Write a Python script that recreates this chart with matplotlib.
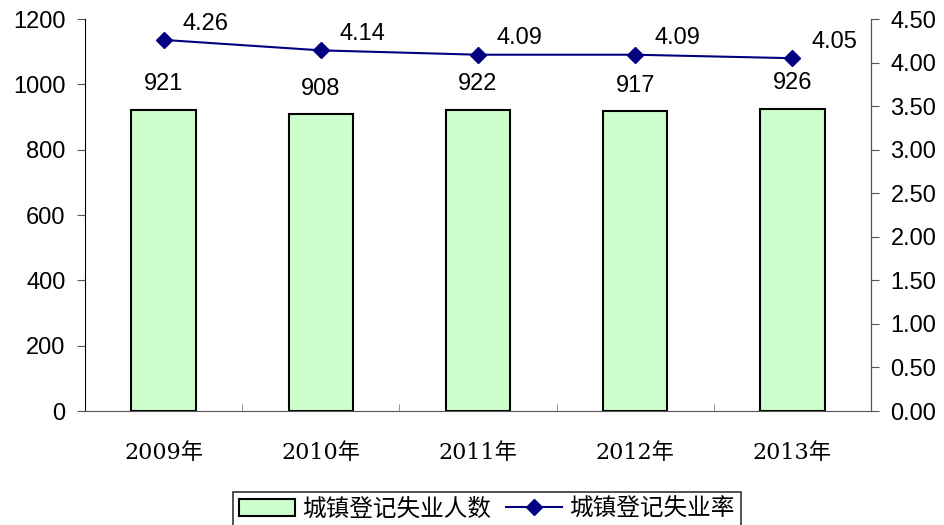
import matplotlib
matplotlib.use("Agg")
import matplotlib.pyplot as plt
import numpy as np

years = ["2009年", "2010年", "2011年", "2012年", "2013年"]
unemployed = [921, 908, 922, 917, 926]
rate = [4.26, 4.14, 4.09, 4.09, 4.05]

plt.rcParams['font.family'] = ['Liberation Sans', 'Noto Sans CJK SC']

fig = plt.figure(figsize=(9.45, 5.25), dpi=100)
ax = fig.add_axes([85/945, 1-411/525, (871-85)/945, (411-19)/525])
ax2 = ax.twinx()

x = np.arange(len(years))
bars = ax.bar(x, unemployed, width=0.41, color='#ccffcc', edgecolor='black',
              linewidth=1.5, label='城镇登记失业人数', zorder=2)
for xi, v in zip(x, unemployed):
    ax.text(xi, v + 45, str(v), ha='center', va='bottom', fontsize=17)

line, = ax2.plot(x, rate, color='#000080', marker='D', markersize=8,
                 linewidth=1.5, label='城镇登记失业率')
for xi, v in zip(x, rate):
    ax2.text(xi + 0.12, v + 0.06, f"{v:.2f}", ha='left', va='bottom', fontsize=17)

ax.set_xlim(-0.5, len(years) - 0.5)
ax.set_ylim(0, 1200)
ax.set_yticks(range(0, 1201, 200))
ax2.set_ylim(0, 4.5)
ax2.set_yticks(np.arange(0, 4.51, 0.5))
ax2.set_yticklabels([f"{t:.2f}" for t in np.arange(0, 4.51, 0.5)])

ax.set_xticks(x)
ax.set_xticklabels(years, family=['DejaVu Serif', 'Noto Sans CJK SC'], fontsize=16)
ax.set_xticks(np.arange(0.5, len(years) - 1, 1), minor=True)
ax.tick_params(axis='x', which='major', length=0, pad=22)
ax.tick_params(axis='x', which='minor', length=5, direction='in', color='gray')
ax.tick_params(axis='y', labelsize=17, length=6, direction='out', color='#555555', pad=8)
ax2.tick_params(axis='y', labelsize=17, length=6, direction='out', color='#555555', pad=8)

for a in (ax, ax2):
    a.spines['top'].set_visible(False)
ax.spines['left'].set_color('black')
ax.spines['bottom'].set_color('#555555')
ax2.spines['right'].set_color('#555555')
ax2.spines['left'].set_visible(False)
ax2.spines['bottom'].set_visible(False)

leg = fig.legend([bars, line], ['城镇登记失业人数', '城镇登记失业率'],
                 loc='lower center', bbox_to_anchor=(0.515, -0.012), ncol=2,
                 fontsize=17, frameon=True, fancybox=False, edgecolor='black',
                 handlelength=2.4, columnspacing=0.6, borderpad=0.25,
                 handletextpad=0.3, borderaxespad=0.2)
leg.get_frame().set_linewidth(1.2)

fig.savefig("out.png", dpi=100)
